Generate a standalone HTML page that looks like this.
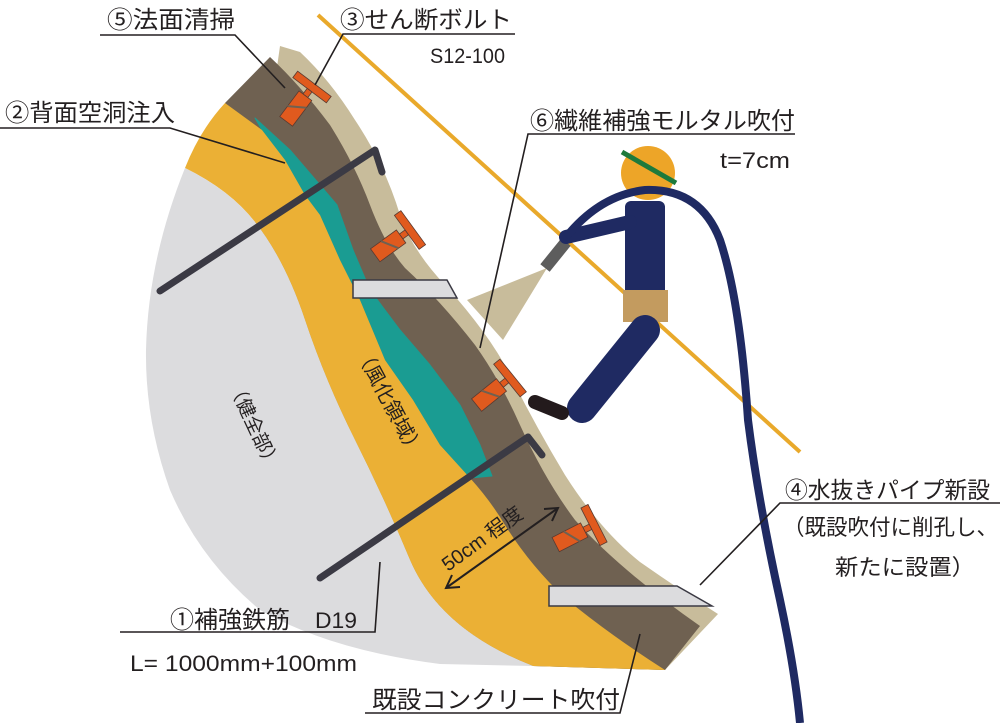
<!DOCTYPE html>
<html><head><meta charset="utf-8"><style>
html,body{margin:0;padding:0;background:#fff;}
svg{display:block;}
text{font-family:"Liberation Sans","Noto Sans CJK JP",sans-serif;fill:#231f20;}
</style></head><body>
<svg width="1004" height="723" viewBox="0 0 1004 723" xmlns="http://www.w3.org/2000/svg">
<!-- beige outer layer -->
<path d="M280,46 L300,52 Q330,80 355,120 Q385,165 400,215 Q412,250 445,285 Q490,335 510,375 Q535,425 565,475 Q600,530 640,562 Q680,590 718,614 L665,670 L533,666 Q440,630 410,560 Q385,500 355,440 Q325,380 305,320 Q285,260 255,222 Z" fill="#c8bc9b"/>
<!-- brown layer -->
<path d="M270,57 Q300,85 330,125 Q355,165 370,205 Q385,245 405,268 Q440,300 475,345 Q500,380 520,425 Q545,480 575,520 Q620,570 700,626 L665,670 L533,666 Q440,630 410,560 Q385,500 355,440 Q325,380 305,320 Q285,260 255,222 L225,103 Z" fill="#6f6151"/>
<!-- teal -->
<path d="M255,118 L290,150 L320,185 L337,205 L353,250 L370,290 L400,330 L430,365 L460,405 L480,445 L492,476 L470,478 L440,445 L413,400 L385,360 L360,300 L340,260 L320,215 L305,195 L285,160 L262,130 Z" fill="#1a9c92" stroke="#1a9c92" stroke-width="1" stroke-linejoin="round"/>
<!-- orange -->
<path d="M225,103 L262,130 L285,160 L305,195 L320,215 L340,260 L360,300 L385,360 L413,400 L440,445 L470,478 Q490,500 505,525 Q530,565 565,598 Q610,635 665,670 L533,666 Q440,630 410,560 Q385,500 355,440 Q325,380 305,320 Q285,260 255,222 Q230,190 185,168 Q200,130 225,103 Z" fill="#ebb035"/>
<!-- gray -->
<path d="M185,168 Q230,190 255,222 Q285,260 305,320 Q325,380 355,440 Q385,500 410,560 Q440,630 533,666 L440,664 Q330,650 260,610 Q200,560 170,490 Q145,420 146,350 Q148,260 185,168 Z" fill="#dcdcde"/>
<!-- rods -->
<path d="M160,291 L375,150 L382,172" fill="none" stroke="#3b3a44" stroke-width="7" stroke-linecap="round" stroke-linejoin="round"/>
<path d="M320,578 L528,437 L542,455" fill="none" stroke="#3b3a44" stroke-width="7" stroke-linecap="round" stroke-linejoin="round"/>
<!-- plates -->
<polygon points="353,280 447,280 457,298 353,298" fill="#dcdcde" stroke="#3b3a44" stroke-width="1.5"/>
<polygon points="549,586 677,586 712,606 549,606" fill="#dcdcde" stroke="#3b3a44" stroke-width="1.5"/>
<!-- bolts -->
<g fill="#e05a1e" stroke="#5a3a30" stroke-width="0.8">
<g transform="translate(312,87) rotate(37)"><rect x="-21" y="-4" width="42" height="8"/><rect x="-3" y="4" width="6" height="7"/><rect x="-8" y="11" width="16" height="32"/><line x1="-8" y1="30" x2="8" y2="20" stroke="#6f6151" stroke-width="2"/></g>
<g transform="translate(410,230) rotate(54)"><rect x="-21" y="-4" width="42" height="8"/><rect x="-3" y="4" width="6" height="7"/><rect x="-8" y="11" width="16" height="32"/><line x1="-8" y1="30" x2="8" y2="20" stroke="#6f6151" stroke-width="2"/></g>
<g transform="translate(510,378) rotate(51)"><rect x="-21" y="-4" width="42" height="8"/><rect x="-3" y="4" width="6" height="7"/><rect x="-8" y="11" width="16" height="32"/><line x1="-8" y1="30" x2="8" y2="20" stroke="#6f6151" stroke-width="2"/></g>
<g transform="translate(594,525) rotate(63)"><rect x="-21" y="-4" width="42" height="8"/><rect x="-3" y="4" width="6" height="7"/><rect x="-8" y="11" width="16" height="32"/><line x1="-8" y1="30" x2="8" y2="20" stroke="#6f6151" stroke-width="2"/></g>
</g>
<!-- yellow line -->
<line x1="318" y1="15" x2="800" y2="452" stroke="#e9a92b" stroke-width="4"/>
<!-- spray cone and nozzle -->
<polygon points="547,268 467,300 503,340" fill="#c8bc9b"/>
<line x1="545" y1="268" x2="566" y2="242" stroke="#5d5d5d" stroke-width="12"/>
<!-- worker -->
<circle cx="648" cy="173" r="27" fill="#eda528"/>
<line x1="622" y1="152" x2="676" y2="183" stroke="#1d7a3c" stroke-width="5"/>
<rect x="625" y="201" width="40" height="95" rx="6" fill="#1f2a62"/>
<rect x="623" y="290" width="45" height="32" fill="#c39b5f"/>
<line x1="645" y1="330" x2="582" y2="408" stroke="#1f2a62" stroke-width="30" stroke-linecap="round"/>
<line x1="535" y1="402" x2="562" y2="413" stroke="#231a1c" stroke-width="14" stroke-linecap="round"/>
<line x1="630" y1="222" x2="566" y2="237" stroke="#1f2a62" stroke-width="14" stroke-linecap="round"/>
<path d="M566,237 Q600,195 645,190 Q700,188 720,240 Q740,300 748,420 Q758,500 780,600 Q795,670 800,723" fill="none" stroke="#1f2a62" stroke-width="8"/>
<!-- 50cm arrow -->
<line x1="446" y1="588" x2="558" y2="508" stroke="#231f20" stroke-width="2"/>
<polyline points="452,575 446,588 460,587" fill="none" stroke="#231f20" stroke-width="2"/>
<polyline points="544,509 558,508 552,521" fill="none" stroke="#231f20" stroke-width="2"/>
<!-- leader lines -->
<g fill="none" stroke="#231f20" stroke-width="1.6">
<polyline points="100,35 235,35 285,88"/>
<polyline points="515,34 343,34 315,85"/>
<polyline points="0,128 170,128 285,163"/>
<polyline points="795,134 528,134 480,348"/>
<polyline points="1000,503 780,503 700,585"/>
<polyline points="120,632 375,632 380,562"/>
<polyline points="365,713 620,713 640,634"/>
</g>
<!-- labels -->
<text x="107" y="28" font-size="24" textLength="128" lengthAdjust="spacingAndGlyphs">⑤法面清掃</text>
<text x="340" y="28" font-size="24" textLength="172" lengthAdjust="spacingAndGlyphs">③せん断ボルト</text>
<text x="430" y="63" font-size="21" textLength="75" lengthAdjust="spacingAndGlyphs">S12-100</text>
<text x="5" y="121" font-size="24" textLength="170" lengthAdjust="spacingAndGlyphs">②背面空洞注入</text>
<text x="530" y="129" font-size="24" textLength="265" lengthAdjust="spacingAndGlyphs">⑥繊維補強モルタル吹付</text>
<text x="720" y="168" font-size="22" textLength="70" lengthAdjust="spacingAndGlyphs">t=7cm</text>
<text x="785" y="498" font-size="23" textLength="205" lengthAdjust="spacingAndGlyphs">④水抜きパイプ新設</text>
<text x="783" y="535" font-size="22" textLength="215" lengthAdjust="spacingAndGlyphs">（既設吹付に削孔し、</text>
<text x="835" y="575" font-size="22" textLength="140" lengthAdjust="spacingAndGlyphs">新たに設置）</text>
<text x="170" y="628" font-size="24" textLength="120" lengthAdjust="spacingAndGlyphs">①補強鉄筋</text>
<text x="315" y="628" font-size="22" textLength="42" lengthAdjust="spacingAndGlyphs">D19</text>
<text x="130" y="671" font-size="22" textLength="227" lengthAdjust="spacingAndGlyphs">L= 1000mm+100mm</text>
<text x="372" y="708" font-size="24" textLength="248" lengthAdjust="spacingAndGlyphs">既設コンクリート吹付</text>
<text transform="translate(228,385) rotate(65)" font-size="19">（健全部）</text>
<text transform="translate(355,352) rotate(62)" font-size="20">（風化領域）</text>
<text transform="translate(448,572) rotate(-36)" font-size="20">50cm 程度</text>
</svg>
</body></html>
